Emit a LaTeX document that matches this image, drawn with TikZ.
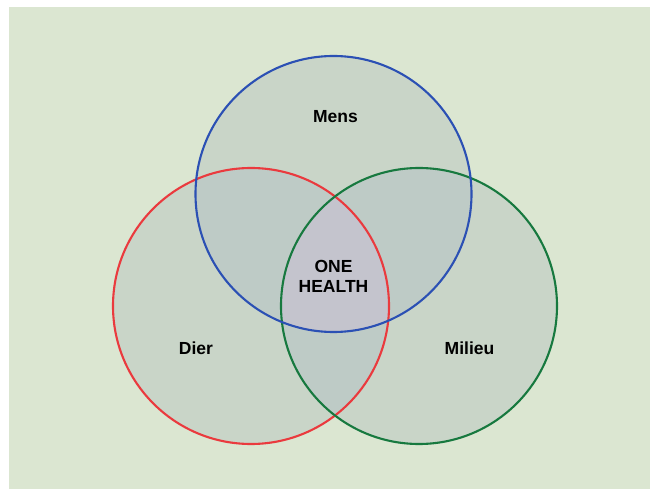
\documentclass[tikz,border=0pt]{standalone}
\usepackage{fontspec}
\setmainfont{Liberation Sans}
\definecolor{bggreen}{HTML}{DBE6D1}
\definecolor{onefill}{HTML}{C9D5C8}
\definecolor{twofill}{HTML}{BECBC6}
\definecolor{threefill}{HTML}{C4C4CD}
\definecolor{mensblue}{HTML}{2B50B4}
\definecolor{dierred}{HTML}{EA3A3E}
\definecolor{milieugreen}{HTML}{17793F}
\tikzset{
  ring/.style={line width=2.1pt},
  label/.style={font=\fontsize{17.5}{20}\selectfont\bfseries, inner sep=0pt, align=center}
}
\begin{document}
\begin{tikzpicture}[x=1pt,y=-1pt]
\useasboundingbox (0,0) rectangle (651,489);
\fill [bggreen] (9,7) rectangle (650,489);
\coordinate (mens) at (333.5,194);
\coordinate (dier) at (251,306);
\coordinate (milieu) at (419,306);
% the three sets
\fill [onefill] (mens) circle (138pt);
\fill [onefill] (dier) circle (138pt);
\fill [onefill] (milieu) circle (138pt);
% overlaps
\begin{scope}
\clip (mens) circle (138pt);
\fill [twofill] (dier) circle (138pt);
\fill [twofill] (milieu) circle (138pt);
\end{scope}
\begin{scope}
\clip (dier) circle (138pt);
\fill [twofill] (milieu) circle (138pt);
\end{scope}
\begin{scope}
\clip (mens) circle (138pt);
\clip (dier) circle (138pt);
\fill [threefill] (milieu) circle (138pt);
\end{scope}
% outlines
\draw [ring, dierred] (dier) circle (138pt);
\draw [ring, milieugreen] (milieu) circle (138pt);
\draw [ring, mensblue] (mens) circle (138pt);
\node [label] (menslabel) at (335.5,116.5) {Mens};
\node [label] (dierlabel) at (196,348.5) {Dier};
\node [label] (milieulabel) at (469.5,348.5) {Milieu};
\node [label] (onehealth) at (333.5,276) {ONE\\HEALTH};
\end{tikzpicture}
\end{document}
